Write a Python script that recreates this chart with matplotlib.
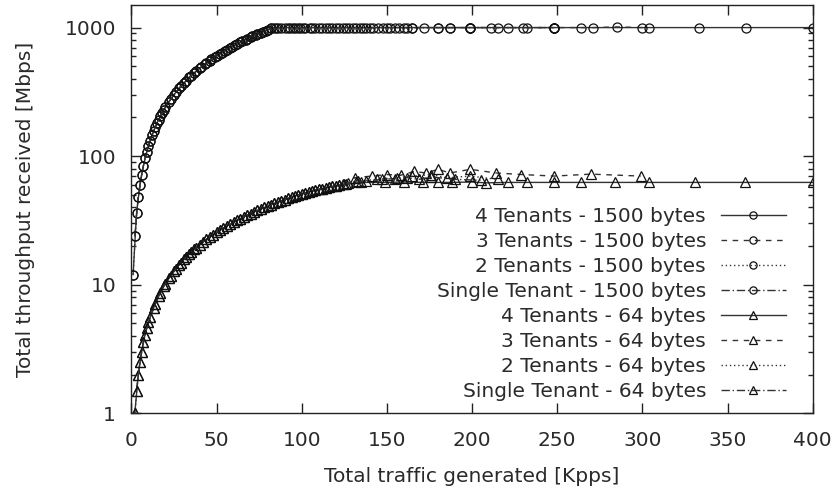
import matplotlib

matplotlib.use("Agg")
import matplotlib.pyplot as plt
from matplotlib.ticker import FixedLocator, LogLocator, NullFormatter

# Throughput (Mbps) vs generated traffic (Kpps).
# 1500-byte runs: the four tenant configurations lie almost on top of each other.
rise_1500_a_x = [1, 3, 5, 7, 9, 11, 13, 15, 17, 19, 22, 25, 28, 31, 34, 37, 40, 43,
                 46, 49, 52, 55, 58, 61, 64, 67, 70, 73, 76, 79, 82]
rise_1500_a_y = [12, 36, 60, 84, 108, 132, 156, 181, 204, 229, 264, 301, 336, 372,
                 410, 445, 482, 517, 553, 590, 625, 661, 697, 733, 769, 805, 841,
                 877, 913, 949, 985]
rise_1500_b_x = [2, 4, 6, 8, 10, 12, 14, 16, 18, 20, 23, 26, 29, 32, 35, 38, 41, 44,
                 47, 50, 53, 56, 59, 62, 65, 68, 71, 74, 77, 80]
rise_1500_b_y = [24, 48, 72, 96, 120, 145, 168, 192, 217, 241, 277, 313, 349, 385,
                 421, 457, 493, 529, 566, 601, 638, 673, 710, 745, 781, 817, 853,
                 889, 925, 962]

t4_1500_tail_x = [84, 90, 96, 102, 108, 116, 124, 132, 140, 150, 160, 172, 187, 199,
                  211, 221, 232, 248, 264, 304, 333, 361, 400]
t4_1500_tail_y = [998, 1000, 1000, 1000, 1000, 1000, 1000, 1000, 1000, 1000, 1000,
                  1000, 1000, 1000, 1000, 1000, 1000, 1000, 1000, 1000, 1000, 1000,
                  1000]
t3_1500_tail_x = [86, 93, 99, 105, 112, 120, 128, 136, 145, 155, 165, 180, 199, 215,
                  230, 248, 271, 285, 300]
t3_1500_tail_y = [1000, 1000, 1000, 1000, 1000, 1000, 1000, 1000, 1000, 1000, 1000,
                  1000, 1000, 1000, 1000, 1000, 1000, 1012, 1000]
t2_1500_tail_x = [88, 95, 101, 110, 118, 126, 134, 142, 152, 162, 180, 199, 248]
t2_1500_tail_y = [1000, 1000, 1000, 1000, 1000, 1000, 1000, 1000, 1000, 1000, 1000,
                  1000, 1000]
t1_1500_tail_x = [85, 92, 98, 106, 114, 122, 130, 138, 148, 157, 165, 187, 199, 248]
t1_1500_tail_y = [1000, 1000, 1000, 1000, 1000, 1000, 1000, 1000, 1000, 1000, 1000,
                  1000, 1000, 1000]

# 64-byte runs
rise_64_a_x = [2, 4, 6, 8, 10, 13, 16, 19, 22, 25, 28, 31, 34, 37, 40, 44, 48, 52,
               56, 60, 64, 68, 72, 76, 80, 84, 88, 92, 96, 100, 104, 108, 112, 116,
               120]
rise_64_a_y = [1.0, 2.0, 3.0, 4.1, 5.1, 6.6, 8.2, 9.7, 11.2, 12.8, 14.3, 15.9, 17.4,
               18.9, 20.5, 22.5, 24.5, 26.6, 28.6, 30.7, 32.7, 34.8, 36.8, 38.9,
               40.9, 42.9, 45.0, 47.0, 49.1, 51.0, 52.8, 54.5, 56.0, 57.5, 58.8]
rise_64_b_x = [3, 5, 7, 9, 11, 14, 17, 20, 23, 26, 29, 32, 35, 38, 42, 46, 50, 54,
               58, 62, 66, 70, 74, 78, 82, 86, 90, 94, 98, 102, 106, 110, 114, 118,
               122]
rise_64_b_y = [1.5, 2.5, 3.6, 4.6, 5.6, 7.1, 8.7, 10.2, 11.7, 13.3, 14.8, 16.4, 17.9,
               19.4, 21.5, 23.5, 25.6, 27.6, 29.6, 31.7, 33.7, 35.8, 37.8, 39.9,
               41.9, 43.9, 46.0, 48.0, 50.0, 51.9, 53.7, 55.3, 56.8, 58.2, 59.6]

t4_64_tail_x = [126, 135, 149, 160, 171, 180, 188, 200, 208, 221, 232, 248, 264, 284,
                304, 331, 360, 400]
t4_64_tail_y = [60.5, 62.5, 62.5, 63.0, 62.5, 62.5, 62.5, 63.0, 62.0, 62.5, 62.5,
                62.5, 62.5, 62.5, 62.5, 62.5, 62.5, 62.5]
t3_64_tail_x = [127, 131, 141, 150, 158, 166, 173, 180, 187, 199, 214, 229, 248, 270,
                299]
t3_64_tail_y = [62.0, 68.0, 70.0, 72.0, 71.0, 76.0, 74.0, 79.0, 74.0, 79.0, 74.0,
                72.0, 70.0, 72.5, 70.0]
t2_64_tail_x = [125, 133, 144, 156, 165, 176, 185, 199, 215]
t2_64_tail_y = [61.0, 64.0, 66.0, 68.0, 70.0, 72.0, 68.0, 70.0, 66.0]
t1_64_tail_x = [124, 132, 138, 147, 155, 162, 169, 176, 190, 205]
t1_64_tail_y = [60.5, 63.0, 64.0, 66.0, 67.0, 68.0, 66.0, 69.0, 66.0, 65.0]

labels = [
    "4 Tenants - 1500 bytes",
    "3 Tenants - 1500 bytes",
    "2 Tenants - 1500 bytes",
    "Single Tenant - 1500 bytes",
    "4 Tenants - 64 bytes",
    "3 Tenants - 64 bytes",
    "2 Tenants - 64 bytes",
    "Single Tenant - 64 bytes",
]

x_ticks = [0, 50, 100, 150, 200, 250, 300, 350, 400]
y_ticks = [1, 10, 100, 1000]

plt.rcParams["font.family"] = ["DejaVu Sans"]
plt.rcParams["font.size"] = 14.5
text_color = "#2a2a2a"

fig = plt.figure(figsize=(8.37, 4.95), dpi=100)
ax = fig.add_axes([0.157, 0.165, 0.814, 0.825])

styles = ["-", (0, (4, 4)), (0, (1, 2)), (0, (6, 2, 1, 2))]
series = [
    (rise_1500_a_x + t4_1500_tail_x, rise_1500_a_y + t4_1500_tail_y, "o"),
    (rise_1500_b_x + t3_1500_tail_x, rise_1500_b_y + t3_1500_tail_y, "o"),
    (rise_1500_a_x + t2_1500_tail_x, rise_1500_a_y + t2_1500_tail_y, "o"),
    (rise_1500_b_x + t1_1500_tail_x, rise_1500_b_y + t1_1500_tail_y, "o"),
    (rise_64_a_x + t4_64_tail_x, rise_64_a_y + t4_64_tail_y, "^"),
    (rise_64_b_x + t3_64_tail_x, rise_64_b_y + t3_64_tail_y, "^"),
    (rise_64_a_x + t2_64_tail_x, rise_64_a_y + t2_64_tail_y, "^"),
    (rise_64_b_x + t1_64_tail_x, rise_64_b_y + t1_64_tail_y, "^"),
]

for i, (xs, ys, marker) in enumerate(series):
    ax.plot(xs, ys, color="#333333", linestyle=styles[i % 4], linewidth=1.0,
            marker=marker, markersize=6.5, markerfacecolor="none",
            markeredgecolor="#111111", markeredgewidth=0.9, label=labels[i])

ax.set_yscale("log")
ax.set_xlim(0, 400)
ax.set_ylim(1, 1500)
ax.xaxis.set_major_locator(FixedLocator(x_ticks))
ax.yaxis.set_major_locator(FixedLocator(y_ticks))
ax.set_yticklabels([str(v) for v in y_ticks])
ax.yaxis.set_minor_locator(LogLocator(base=10, subs=range(2, 10)))
ax.yaxis.set_minor_formatter(NullFormatter())

ax.tick_params(which="both", direction="in", top=True, right=True, width=1.0,
               color="#222222", labelcolor=text_color)
ax.tick_params(which="major", length=7.5)
ax.tick_params(which="minor", length=3.8)
ax.tick_params(axis="x", which="major", pad=13)
ax.tick_params(axis="y", which="major", pad=11)
for s in ax.spines.values():
    s.set_linewidth(1.0)
    s.set_color("#222222")

ax.set_xlabel("Total traffic generated [Kpps]", color=text_color, labelpad=12)
ax.set_ylabel("Total throughput received [Mbps]", color=text_color, labelpad=21)

leg = ax.legend(loc="lower right", bbox_to_anchor=(0.975, 0.005), frameon=False,
                markerfirst=False, handlelength=3.2, handletextpad=0.75,
                labelspacing=0.3, borderpad=0, numpoints=1, markerscale=0.8)
for t in leg.get_texts():
    t.set_color(text_color)

fig.savefig("out.png", dpi=100)
